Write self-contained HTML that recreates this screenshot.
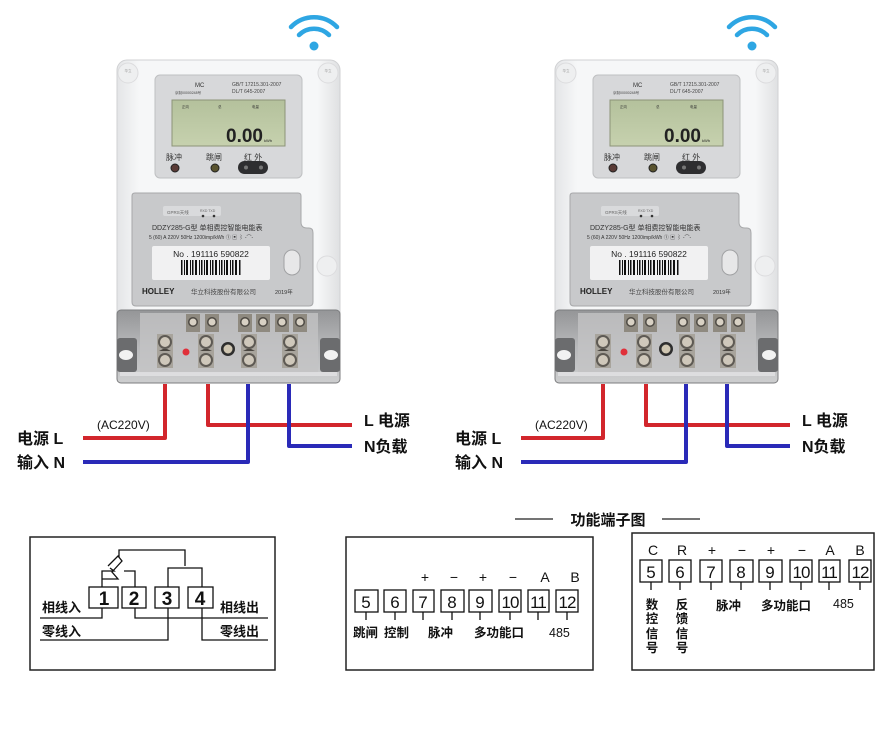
<!DOCTYPE html>
<html><head><meta charset="utf-8">
<style>
html,body{margin:0;padding:0;background:#fff;}
svg{display:block;}
text{font-family:"Liberation Sans","Noto Sans CJK SC",sans-serif;}
</style></head>
<body>
<svg width="884" height="730" viewBox="0 0 884 730" xmlns="http://www.w3.org/2000/svg">
<defs>
<linearGradient id="bodyg" x1="0" y1="0" x2="1" y2="0">
<stop offset="0" stop-color="#e4e5e7"/><stop offset="0.1" stop-color="#f6f7f8"/><stop offset="0.9" stop-color="#f6f7f8"/><stop offset="1" stop-color="#dfe0e2"/></linearGradient>
<linearGradient id="lcdg" x1="0" y1="0" x2="0" y2="1">
<stop offset="0" stop-color="#b4c19c"/><stop offset="1" stop-color="#c6d1ae"/></linearGradient>
<linearGradient id="termg" x1="0" y1="0" x2="0" y2="1">
<stop offset="0" stop-color="#949597"/><stop offset="0.5" stop-color="#b8b9bb"/><stop offset="1" stop-color="#cdcecf"/></linearGradient>
<g id="bigt">
<rect x="-8" y="-16" width="16" height="34" fill="#a8a49c"/>
<circle cx="0" cy="-8" r="7" fill="#5e5a54"/><circle cx="0" cy="-8" r="5" fill="#cfc8bb"/>
<circle cx="0" cy="10" r="7" fill="#5e5a54"/><circle cx="0" cy="10" r="5" fill="#cfc8bb"/>
<path d="M-6 1 L6 1 L2 -1 L-2 -1Z" fill="#4a4640"/>
</g>
<g id="smt">
<rect x="-7" y="-8" width="14" height="18" fill="#8f8a80"/>
<circle cx="0" cy="0" r="5" fill="#4e4a44"/><circle cx="0" cy="0" r="3.5" fill="#d8d1c4"/>
</g>
<g id="meter">
<g fill="none" stroke="#2ea6e3" stroke-width="4.5" stroke-linecap="round">
<path d="M291 27 A32 32 0 0 1 337 27"/>
<path d="M299 35 A21 21 0 0 1 329 35"/>
</g>
<circle cx="314" cy="46" r="4.5" fill="#2ea6e3"/>
<rect x="117" y="60" width="223" height="323" rx="10" fill="url(#bodyg)" stroke="#d0d1d3"/>
<circle cx="128" cy="73" r="10" fill="#eeeff0" stroke="#dcdcde"/>
<circle cx="328" cy="73" r="10" fill="#eeeff0" stroke="#dcdcde"/>
<circle cx="327" cy="266" r="10" fill="#eeeff0" stroke="#dcdcde"/>
<text x="128" y="72" font-size="3.5" fill="#999" text-anchor="middle">华立</text>
<text x="328" y="72" font-size="3.5" fill="#999" text-anchor="middle">华立</text>
<rect x="155" y="75" width="147" height="103" rx="5" fill="#d7d8da" stroke="#bfc0c2"/>
<text x="195" y="87" font-size="6" fill="#333">MC</text>
<text x="175" y="94" font-size="3.5" fill="#444">京制00000248号</text>
<text x="232" y="86" font-size="5" fill="#444">GB/T 17215.301-2007</text>
<text x="232" y="93" font-size="5" fill="#444">DL/T 645-2007</text>
<rect x="172" y="100" width="113" height="46" fill="url(#lcdg)" stroke="#8c9478"/>
<text x="182" y="108" font-size="3.5" fill="#333">正向</text>
<text x="218" y="108" font-size="3.5" fill="#333">总</text>
<text x="252" y="108" font-size="3.5" fill="#333">电量</text>
<text x="226" y="142" font-size="19" font-weight="bold" fill="#222" font-family="Liberation Mono">0.00</text>
<text x="264" y="142" font-size="4" fill="#222">kWh</text>
<text x="166" y="160" font-size="8" fill="#333">脉冲</text>
<text x="206" y="160" font-size="8" fill="#333">跳闸</text>
<text x="244" y="160" font-size="8" fill="#333">红 外</text>
<circle cx="175" cy="168" r="4" fill="#5a3b36" stroke="#222"/>
<circle cx="215" cy="168" r="4" fill="#59532f" stroke="#222"/>
<rect x="238" y="161" width="30" height="13" rx="6.5" fill="#2e2e30"/>
<circle cx="246" cy="167.5" r="2" fill="#777"/><circle cx="261" cy="167.5" r="2" fill="#777"/>
<path d="M132 196 Q132 193 135 193 L298 193 Q301 193 301 196 L301 222 Q301 228 307 228 L309 228 Q313 228 313 233 L313 302 Q313 306 309 306 L136 306 Q132 306 132 302Z" fill="#c8c9cb" stroke="#a7a8aa"/>
<rect x="163" y="206" width="58" height="10" rx="2" fill="#d9dadc"/>
<text x="167" y="214" font-size="4.5" fill="#666">GPRS天线</text>
<text x="200" y="212" font-size="3.5" fill="#666">RXD TXD</text>
<circle cx="203" cy="216" r="1.3" fill="#333"/><circle cx="214" cy="216" r="1.3" fill="#333"/>
<text x="152" y="230" font-size="7" fill="#333">DDZY285-G型  单相费控智能电能表</text>
<text x="149" y="239" font-size="5" fill="#333">5 (60) A 220V 50Hz 1200imp/kWh ① ▣ ⌇ -⌒-</text>
<rect x="152" y="246" width="118" height="34" rx="2" fill="#f1f1f2"/>
<text x="211" y="257" font-size="8.5" fill="#222" text-anchor="middle">No . 191116 590822</text>
<g fill="#111">
<rect x="181" y="260" width="1.5" height="15"/><rect x="184" y="260" width="1" height="15"/><rect x="186" y="260" width="2" height="15"/><rect x="190" y="260" width="1" height="15"/><rect x="192" y="260" width="1.5" height="15"/><rect x="195" y="260" width="2" height="15"/><rect x="199" y="260" width="1" height="15"/><rect x="201" y="260" width="1.5" height="15"/><rect x="204" y="260" width="1" height="15"/><rect x="206" y="260" width="2" height="15"/><rect x="210" y="260" width="1" height="15"/><rect x="212" y="260" width="1.5" height="15"/><rect x="215" y="260" width="2" height="15"/><rect x="219" y="260" width="1" height="15"/><rect x="221" y="260" width="1.5" height="15"/><rect x="224" y="260" width="1" height="15"/><rect x="226" y="260" width="2" height="15"/><rect x="230" y="260" width="1" height="15"/><rect x="232" y="260" width="1.5" height="15"/><rect x="235" y="260" width="2" height="15"/><rect x="239" y="260" width="1.5" height="15"/>
</g>
<rect x="284" y="250" width="16" height="25" rx="8" fill="#e7e7e8" stroke="#a0a1a3"/>
<text x="142" y="294" font-size="8" font-weight="bold" fill="#222">HOLLEY</text>
<text x="191" y="294" font-size="6.5" fill="#444">华立科技股份有限公司</text>
<text x="275" y="294" font-size="5.5" fill="#333">2019年</text>
<rect x="117" y="310" width="223" height="73" rx="4" fill="url(#termg)" stroke="#7c7d7f"/>
<rect x="140" y="313" width="178" height="60" fill="#c3c3c4" opacity="0.8"/>
<rect x="117" y="338" width="20" height="34" rx="3" fill="#6b6c6e"/>
<rect x="320" y="338" width="20" height="34" rx="3" fill="#6b6c6e"/>
<ellipse cx="126" cy="355" rx="7" ry="5" fill="#f2f2f2"/>
<ellipse cx="331" cy="355" rx="7" ry="5" fill="#f2f2f2"/>
<use href="#smt" x="193" y="322"/><use href="#smt" x="212" y="322"/>
<use href="#smt" x="245" y="322"/><use href="#smt" x="263" y="322"/><use href="#smt" x="282" y="322"/><use href="#smt" x="300" y="322"/>
<use href="#bigt" x="165" y="350"/><use href="#bigt" x="206" y="350"/><use href="#bigt" x="249" y="350"/><use href="#bigt" x="290" y="350"/>
<circle cx="186" cy="352" r="3.5" fill="#e0303a"/>
<circle cx="228" cy="349" r="7" fill="#2e2e2e"/><circle cx="228" cy="349" r="4.5" fill="#cfc6b2"/>
<rect x="120" y="372" width="217" height="4" fill="#e2e2e3" opacity="0.8"/>
<g fill="none" stroke-width="4" stroke-linejoin="round">
<path d="M165 384 L165 438 L83 438" stroke="#d2262c"/>
<path d="M208 384 L208 425 L352 425" stroke="#d2262c"/>
<path d="M248 384 L248 462 L83 462" stroke="#2a2ab8"/>
<path d="M289 384 L289 446 L352 446" stroke="#2a2ab8"/>
</g>
<g font-size="16" fill="#111" font-weight="bold">
<text x="17" y="444">电源 L</text>
<text x="17" y="468">输入 N</text>
<text x="364" y="426">L 电源</text>
<text x="364" y="452">N负载</text>
</g>
<text x="97" y="429" font-size="12" fill="#111">(AC220V)</text>
</g>
</defs>

<use href="#meter"/>
<use href="#meter" x="438"/>

<line x1="515" y1="519" x2="553" y2="519" stroke="#222" stroke-width="1.2"/>
<line x1="662" y1="519" x2="700" y2="519" stroke="#222" stroke-width="1.2"/>
<text x="608" y="525" font-size="15" font-weight="bold" fill="#111" text-anchor="middle">功能端子图</text>

<rect x="30" y="537" width="245" height="133" fill="none" stroke="#222" stroke-width="1.5"/>
<g fill="none" stroke="#111" stroke-width="1.3">
<rect x="89" y="587" width="29" height="21"/>
<rect x="122" y="587" width="24" height="21"/>
<rect x="155" y="587" width="24" height="21"/>
<rect x="188" y="587" width="25" height="21"/>
<path d="M40 618 L102 618 L102 608"/>
<path d="M135 608 L135 618 L268 618"/>
<path d="M40 640 L168 640 L168 608"/>
<path d="M202 608 L202 640 L268 640"/>
<path d="M102 587 L102 571 L114 571 L110 568"/>
<path d="M102 579 L118 579 L112 572 L122 561 L118 556 L108 566"/>
<path d="M119 557 L119 550 L185 550 L185 566"/>
<path d="M135 587 L135 571 L124 571"/>
<path d="M168 587 L168 568 L202 568 L202 587"/>
</g>
<g font-size="19" fill="#111" text-anchor="middle" font-weight="bold">
<text x="104" y="605">1</text><text x="134" y="605">2</text><text x="167" y="605">3</text><text x="200" y="605">4</text>
</g>
<g font-size="13" fill="#111" font-weight="bold">
<text x="42" y="612">相线入</text>
<text x="42" y="636">零线入</text>
<text x="220" y="612">相线出</text>
<text x="220" y="636">零线出</text>
</g>

<rect x="346" y="537" width="247" height="133" fill="none" stroke="#222" stroke-width="1.5"/>
<g fill="none" stroke="#111" stroke-width="1.3">
<rect x="355" y="590" width="23" height="22"/><rect x="384" y="590" width="22" height="22"/>
<rect x="413" y="590" width="21" height="22"/><rect x="441" y="590" width="23" height="22"/>
<rect x="469" y="590" width="23" height="22"/><rect x="499" y="590" width="22" height="22"/>
<rect x="528" y="590" width="21" height="22"/><rect x="556" y="590" width="22" height="22"/>
<path d="M366 612v8M395 612v8M423 612v8M452 612v8M480 612v8M510 612v8M538 612v8M567 612v8"/>
</g>
<g font-size="17" fill="#111" text-anchor="middle">
<text x="366" y="608">5</text><text x="395" y="608">6</text><text x="423" y="608">7</text><text x="452" y="608">8</text>
<text x="480" y="608">9</text><text x="510" y="608" letter-spacing="-1">10</text><text x="538" y="608" letter-spacing="-1">11</text><text x="567" y="608" letter-spacing="-1">12</text>
<text x="425" y="582" font-size="14">+</text><text x="454" y="582" font-size="14">−</text><text x="483" y="582" font-size="14">+</text><text x="513" y="582" font-size="14">−</text>
<text x="545" y="582" font-size="14">A</text><text x="575" y="582" font-size="14">B</text>
</g>
<g font-size="12.5" fill="#111" font-weight="bold">
<text x="353" y="637">跳闸</text><text x="384" y="637">控制</text><text x="428" y="637">脉冲</text>
<text x="474" y="637">多功能口</text><text x="549" y="637" font-weight="normal">485</text>
</g>

<rect x="632" y="533" width="242" height="137" fill="none" stroke="#222" stroke-width="1.5"/>
<g fill="none" stroke="#111" stroke-width="1.3">
<rect x="640" y="560" width="22" height="22"/><rect x="669" y="560" width="22" height="22"/>
<rect x="700" y="560" width="22" height="22"/><rect x="730" y="560" width="23" height="22"/>
<rect x="759" y="560" width="23" height="22"/><rect x="790" y="560" width="22" height="22"/>
<rect x="819" y="560" width="21" height="22"/><rect x="849" y="560" width="22" height="22"/>
<path d="M651 582v8M680 582v8M711 582v8M741 582v8M770 582v8M801 582v8M829 582v8M860 582v8"/>
</g>
<g font-size="17" fill="#111" text-anchor="middle">
<text x="651" y="578">5</text><text x="680" y="578">6</text><text x="711" y="578">7</text><text x="741" y="578">8</text>
<text x="770" y="578">9</text><text x="801" y="578" letter-spacing="-1">10</text><text x="829" y="578" letter-spacing="-1">11</text><text x="860" y="578" letter-spacing="-1">12</text>
<g font-size="14"><text x="653" y="555">C</text><text x="682" y="555">R</text><text x="712" y="555">+</text><text x="742" y="555">−</text><text x="771" y="555">+</text><text x="802" y="555">−</text><text x="830" y="555">A</text><text x="860" y="555">B</text></g>
</g>
<g font-size="12.5" fill="#111" text-anchor="middle" font-weight="bold">
<text x="652" y="609">数</text><text x="652" y="623">控</text><text x="652" y="638">信</text><text x="652" y="652">号</text>
<text x="682" y="609">反</text><text x="682" y="623">馈</text><text x="682" y="638">信</text><text x="682" y="652">号</text>
</g>
<g font-size="12.5" fill="#111" font-weight="bold">
<text x="716" y="610">脉冲</text><text x="761" y="610">多功能口</text><text x="833" y="608" font-weight="normal">485</text>
</g>
</svg>
</body></html>
